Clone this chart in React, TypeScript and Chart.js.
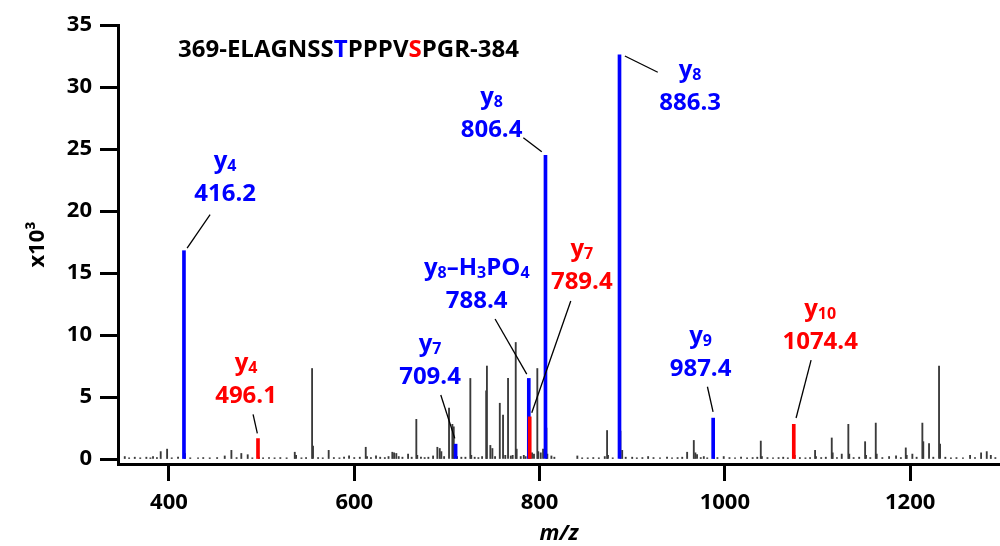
import React, { useEffect, useRef } from 'react';
import { Chart, registerables } from 'chart.js';

Chart.register(...registerables);

const FONT = "'Open Sans', 'Noto Sans', 'DejaVu Sans', sans-serif";
const BLUE = '#0000ff';
const RED = '#ff0000';
const GREY = '#3a3a3a';

// axis ranges & ticks
const xMin = 345;
const xMax = 1297;
const yMin = -0.4;
const yMax = 35;
const xTicks = [400, 600, 800, 1000, 1200];
const yTicks = [0, 5, 10, 15, 20, 25, 30, 35];

// unassigned peaks (m/z, intensity x10^3)
const greyMz = [
  352.3, 357, 363.1, 369, 375.6, 380, 382.8, 387, 391.1, 398, 403, 409.8, 417.2, 423, 431.4, 437, 444, 452,
  460.2, 467.4, 473, 478.1, 485.0, 490, 497.1, 501.6, 508, 514, 520.2, 527, 535.8, 537.2, 543, 548, 554.5,
  555.5, 561, 566, 572.4, 578, 584, 589, 594.4, 600, 606, 612.4, 613.8, 618, 623.5, 628, 633, 637, 641.1,
  643, 645.4, 648, 652, 658.1, 662, 667.0, 668, 672, 676, 680, 685.1, 689.7, 692.3, 694, 697, 702.3, 705.9,
  707.4, 711, 715.6, 720, 725.3, 726.3, 730, 734, 738, 742.4, 743.2, 746.9, 749.1, 752, 757.1, 760.6, 763,
  766.0, 769, 771, 774.3, 775.3, 779.7, 783, 785, 791.9, 794, 797.6, 798.6, 801.3, 803.8, 807.4, 808.4,
  812.8, 816, 840.8, 846, 852, 858, 864, 870.4, 872.9, 873.9, 879, 887.3, 889.2, 893, 900, 905, 911, 917.2,
  923, 930, 937.6, 943, 949, 954, 959.3, 966.5, 968.2, 970, 974, 977.3, 981, 988.4, 992, 998.8, 1005, 1011,
  1017.5, 1024, 1030, 1035, 1038.8, 1040, 1046, 1052, 1058, 1063, 1068, 1075.4, 1081, 1087, 1092, 1097.4,
  1098.4, 1104, 1109, 1115.4, 1116.4, 1121, 1126.2, 1133.3, 1134.3, 1139, 1145, 1151.4, 1152.4, 1157,
  1162.9, 1163.9, 1170, 1177.3, 1184.8, 1190, 1195.3, 1196.3, 1202.4, 1207, 1213.2, 1214.2, 1220.4, 1225,
  1231.2, 1232.3, 1238, 1244, 1250, 1257, 1264.7, 1270, 1276.6, 1282.7, 1287.1, 1292,
];
const greyInt = [
  0.2, 0.1, 0.15, 0.1, 0.15, 0.1, 0.2, 0.12, 0.6, 0.8, 0.1, 0.15, 0.45, 0.1, 0.1, 0.12, 0.1, 0.12,
  0.25, 0.7, 0.12, 0.45, 0.35, 0.1, 0.15, 0.1, 0.12, 0.1, 0.12, 0.1, 0.55, 0.3, 0.1, 0.12, 7.3,
  1.05, 0.12, 0.1, 0.7, 0.12, 0.1, 0.15, 0.25, 0.12, 0.15, 0.95, 0.2, 0.12, 0.25, 0.15, 0.12, 0.2, 0.55,
  0.5, 0.45, 0.2, 0.15, 0.4, 0.15, 3.2, 0.3, 0.15, 0.12, 0.15, 0.25, 0.95, 0.85, 0.6, 0.2, 4.1, 2.8,
  2.6, 0.2, 0.15, 0.15, 6.5, 0.3, 0.15, 0.12, 0.2, 5.5, 7.5, 1.1, 0.85, 0.2, 4.5, 3.55, 0.3,
  6.5, 0.25, 0.3, 9.4, 0.8, 0.2, 0.3, 0.2, 0.5, 0.4, 7.3, 0.6, 0.5, 0.8, 2.5, 0.4,
  0.25, 0.15, 0.25, 0.1, 0.1, 0.12, 0.1, 0.2, 2.3, 0.3, 0.1, 2.25, 0.7, 0.15, 0.15, 0.1, 0.12, 0.2,
  0.12, 0.1, 0.15, 0.1, 0.12, 0.15, 0.55, 1.5, 0.5, 0.35, 0.12, 0.2, 0.1, 0.35, 0.12, 0.2, 0.12, 0.1,
  0.15, 0.1, 0.12, 0.15, 1.45, 0.2, 0.12, 0.1, 0.12, 0.15, 0.1, 0.3, 0.12, 0.1, 0.12, 0.7,
  0.2, 0.12, 0.15, 1.7, 0.5, 0.12, 0.4, 2.8, 0.4, 0.12, 0.15, 1.4, 0.3, 0.12,
  2.9, 0.4, 0.12, 0.2, 0.25, 0.12, 0.9, 0.3, 0.4, 0.15, 2.9, 1.4, 1.25, 0.15,
  7.5, 1.2, 0.15, 0.1, 0.12, 0.1, 0.3, 0.12, 0.5, 0.6, 0.3, 0.12,
];

// assigned peaks
const blueMz = [416.2, 709.4, 788.4, 806.4, 886.3, 987.4];
const blueInt = [16.8, 1.2, 6.5, 24.5, 32.6, 3.3];
const redMz = [496.1, 789.4, 1074.4];
const redInt = [1.65, 3.4, 2.8];

// annotations
const annIon = ['y_4', 'y_4', 'y_7', 'y_8–H_3PO_4', 'y_7', 'y_8', 'y_8', 'y_9', 'y_10'];
const annValue = ['416.2', '496.1', '709.4', '788.4', '789.4', '806.4', '886.3', '987.4', '1074.4'];
const annColor = [BLUE, RED, BLUE, BLUE, RED, BLUE, BLUE, BLUE, RED];
const annX = [460.6, 483.2, 681.8, 732.2, 845.6, 748.2, 962.5, 973.8, 1102.9];
const annY = [20.77, 4.48, 6.09, 12.14, 13.75, 25.98, 28.13, 6.71, 8.91];
const leadX1 = [444.4, 490.8, 693.4, 752.0, 833.7, 782.5, 927.6, 981.2, 1093.1];
const leadY1 = [19.7, 3.6, 5.16, 11.29, 12.74, 25.91, 31.19, 5.83, 7.98];
const leadX2 = [419.6, 495.4, 708.5, 786.2, 791.6, 802.4, 892.1, 987.3, 1076.9];
const leadY2 = [17.0, 2.07, 1.67, 6.85, 3.73, 24.78, 32.5, 3.81, 3.31];

const titleParts = ['369-ELAGNSS', 'T', 'PPPV', 'S', 'PGR-384'];
const titleColors = ['#000', BLUE, '#000', RED, '#000'];

function parseIon(s: string) {
  const segs: { t: string; sub: boolean }[] = [];
  let i = 0;
  while (i < s.length) {
    if (s[i] === '_') {
      let j = i + 1;
      while (j < s.length && /[0-9]/.test(s[j])) j++;
      segs.push({ t: s.slice(i + 1, j), sub: true });
      i = j;
    } else {
      let j = i;
      while (j < s.length && s[j] !== '_') j++;
      segs.push({ t: s.slice(i, j), sub: false });
      i = j;
    }
  }
  return segs;
}

const annotationPlugin = {
  id: 'msAnnotations',
  afterDatasetsDraw(chart: any) {
    const { ctx } = chart;
    const xs = chart.scales.x;
    const ys = chart.scales.y;
    ctx.save();
    ctx.strokeStyle = '#000';
    ctx.lineWidth = 1.3;
    for (let i = 0; i < annIon.length; i++) {
      ctx.beginPath();
      ctx.moveTo(xs.getPixelForValue(leadX1[i]), ys.getPixelForValue(leadY1[i]));
      ctx.lineTo(xs.getPixelForValue(leadX2[i]), ys.getPixelForValue(leadY2[i]));
      ctx.stroke();
    }
    const bigFont = `bold 24px ${FONT}`;
    const subFont = `bold 16px ${FONT}`;
    ctx.textBaseline = 'alphabetic';
    for (let i = 0; i < annIon.length; i++) {
      const cx = xs.getPixelForValue(annX[i]);
      const by = ys.getPixelForValue(annY[i]);
      ctx.fillStyle = annColor[i];
      ctx.font = bigFont;
      ctx.textAlign = 'center';
      ctx.fillText(annValue[i], cx, by);
      const segs = parseIon(annIon[i]);
      let total = 0;
      const widths = segs.map((sg) => {
        ctx.font = sg.sub ? subFont : bigFont;
        const w = ctx.measureText(sg.t).width;
        total += w;
        return w;
      });
      let px = cx - total / 2;
      const iy = by - 33;
      ctx.textAlign = 'left';
      segs.forEach((sg, k) => {
        ctx.font = sg.sub ? subFont : bigFont;
        ctx.fillText(sg.t, px, sg.sub ? iy + 3 : iy);
        px += widths[k];
      });
    }
    ctx.font = bigFont;
    ctx.textAlign = 'left';
    let tx = 178;
    titleParts.forEach((p, k) => {
      ctx.fillStyle = titleColors[k];
      ctx.fillText(p, tx, 56.5);
      tx += ctx.measureText(p).width;
    });
    ctx.restore();
  },
};

export default function App() {
  const ref = useRef<HTMLCanvasElement | null>(null);
  useEffect(() => {
    document.body.style.margin = '0';
    if (!ref.current) return;
    const tickFont = { family: FONT, size: 22, weight: 'bold' as const };
    const mk = (mz: number[], it: number[]) => mz.map((m, i) => ({ x: m, y: it[i] }));
    const chart = new Chart(ref.current, {
      type: 'bar',
      data: {
        datasets: [
          { data: mk(redMz, redInt), backgroundColor: RED, barThickness: 3, grouped: false } as any,
          { data: mk(blueMz, blueInt), backgroundColor: BLUE, barThickness: 3, grouped: false } as any,
          { data: mk(greyMz, greyInt), backgroundColor: GREY, barThickness: 1.2, grouped: false } as any,
        ],
      },
      options: {
        responsive: false,
        animation: false,
        layout: { padding: { top: 25, right: 0, left: 0, bottom: 0 } },
        plugins: { legend: { display: false }, tooltip: { enabled: false } },
        scales: {
          x: {
            type: 'linear',
            min: xMin,
            max: xMax,
            offset: false,
            afterBuildTicks: (s: any) => {
              s.ticks = xTicks.map((v) => ({ value: v }));
            },
            afterFit: (s: any) => {
              s.height = 82;
            },
            grid: { offset: false, drawOnChartArea: false, drawTicks: true, tickLength: 17, tickWidth: 3, tickColor: '#000' },
            border: { display: true, color: '#000', width: 3 },
            ticks: {
              color: '#000',
              font: tickFont,
              padding: 9,
              maxRotation: 0,
              autoSkip: false,
              callback: (v: any) => String(v),
            },
            title: {
              display: true,
              text: 'm/z',
              color: '#000',
              font: { family: FONT, size: 22, weight: 'bold', style: 'italic' },
              padding: { top: 0, bottom: -1 },
            },
          },
          y: {
            type: 'linear',
            min: yMin,
            max: yMax,
            afterBuildTicks: (s: any) => {
              s.ticks = yTicks.map((v) => ({ value: v }));
            },
            afterFit: (s: any) => {
              s.width = 118;
            },
            grid: { drawOnChartArea: false, drawTicks: true, tickLength: 18, tickWidth: 3, tickColor: '#000' },
            border: { display: true, color: '#000', width: 3 },
            ticks: { color: '#000', font: tickFont, padding: 8, callback: (v: any) => String(v) },
            title: {
              display: true,
              text: 'x10³',
              color: '#000',
              font: { family: FONT, size: 22, weight: 'bold' },
              padding: { top: 25, bottom: 0 },
            },
          },
        },
      } as any,
      plugins: [annotationPlugin],
    });
    return () => chart.destroy();
  }, []);
  return (
    <div style={{ position: 'absolute', left: 0, top: 0, width: 1000, height: 546 }}>
      <canvas ref={ref} width={1000} height={546} style={{ display: 'block' }} />
    </div>
  );
}
